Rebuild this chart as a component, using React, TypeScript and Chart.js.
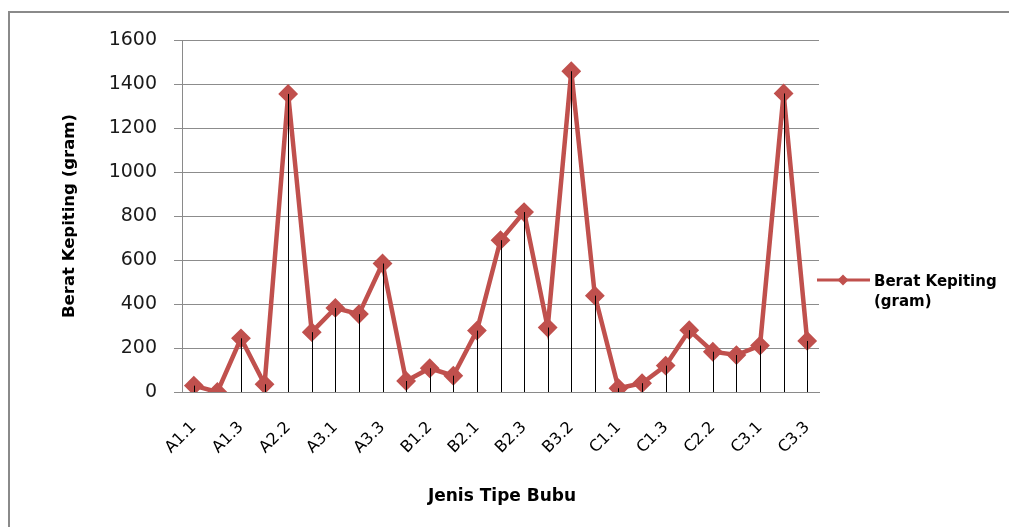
import React, { useEffect, useRef } from "react";
import { Chart, registerables } from "chart.js";

Chart.register(...registerables);

const categories = [
  "A1.1", "A1.2", "A1.3", "A2.1", "A2.2", "A2.3", "A3.1", "A3.2", "A3.3",
  "B1.1", "B1.2", "B1.3", "B2.1", "B2.2", "B2.3", "B3.1", "B3.2", "B3.3",
  "C1.1", "C1.2", "C1.3", "C2.1", "C2.2", "C2.3", "C3.1", "C3.2", "C3.3",
];

const beratKepiting = [
  29, 0, 244, 35, 1355, 272, 382, 354, 584,
  50, 108, 74, 279, 690, 818, 293, 1458, 438,
  17, 40, 120, 281, 183, 168, 211, 1357, 232,
];

const yTicks = [0, 200, 400, 600, 800, 1000, 1200, 1400, 1600];

const seriesName = "Berat Kepiting (gram)";
const legendLines = ["Berat Kepiting", "(gram)"];
const xTitle = "Jenis Tipe Bubu";
const yTitle = "Berat Kepiting (gram)";

const RED = "#C0504D";
const FONT = "'DejaVu Sans', sans-serif";

const decorPlugin = {
  id: "decor",
  beforeDraw(chart: any) {
    const ctx = chart.ctx;
    ctx.save();
    ctx.fillStyle = "#ffffff";
    ctx.fillRect(0, 0, chart.width, chart.height);
    ctx.strokeStyle = "#8a8a8a";
    ctx.lineWidth = 2;
    ctx.beginPath();
    ctx.moveTo(9, chart.height);
    ctx.lineTo(9, 12);
    ctx.lineTo(chart.width, 12);
    ctx.stroke();
    ctx.restore();
  },
  afterDatasetsDraw(chart: any) {
    const ctx = chart.ctx;
    const meta = chart.getDatasetMeta(0);
    const yScale = chart.scales.y;
    const base = yScale.getPixelForValue(0);
    ctx.save();
    ctx.strokeStyle = "#000000";
    ctx.lineWidth = 1;
    meta.data.forEach((pt: any) => {
      const x = Math.round(pt.x) + 0.5;
      ctx.beginPath();
      ctx.moveTo(x, pt.y);
      ctx.lineTo(x, base);
      ctx.stroke();
    });
    ctx.restore();
  },
  afterDraw(chart: any) {
    const ctx = chart.ctx;
    ctx.save();
    // axis titles
    ctx.fillStyle = "#000000";
    ctx.font = `bold 16.5px ${FONT}`;
    ctx.textAlign = "center";
    ctx.textBaseline = "middle";
    ctx.save();
    ctx.translate(70, 216);
    ctx.rotate(-Math.PI / 2);
    ctx.fillText(yTitle, 0, 0);
    ctx.restore();
    ctx.font = `bold 17px ${FONT}`;
    ctx.fillText(xTitle, 502, 497);

    // legend
    const ly = 280;
    ctx.strokeStyle = RED;
    ctx.lineWidth = 3;
    ctx.beginPath();
    ctx.moveTo(817, ly);
    ctx.lineTo(870, ly);
    ctx.stroke();
    ctx.fillStyle = RED;
    ctx.beginPath();
    ctx.moveTo(843, ly - 5.5);
    ctx.lineTo(848.5, ly);
    ctx.lineTo(843, ly + 5.5);
    ctx.lineTo(837.5, ly);
    ctx.closePath();
    ctx.fill();
    ctx.fillStyle = "#000000";
    ctx.font = `bold 15px ${FONT}`;
    ctx.textAlign = "left";
    ctx.textBaseline = "alphabetic";
    ctx.fillText(legendLines[0], 874, 286);
    ctx.fillText(legendLines[1], 874, 306);
    ctx.restore();
  },
};

export default function App() {
  const canvasRef = useRef<HTMLCanvasElement | null>(null);

  useEffect(() => {
    if (!canvasRef.current) return;
    const chart = new Chart(canvasRef.current, {
      type: "line",
      data: {
        labels: categories,
        datasets: [
          {
            label: seriesName,
            data: beratKepiting,
            borderColor: RED,
            backgroundColor: RED,
            borderWidth: 4.5,
            pointStyle: "rectRot",
            pointRadius: 8.5,
            pointBorderWidth: 2,
            pointBackgroundColor: RED,
            pointBorderColor: RED,
            tension: 0,
            fill: false,
          },
        ],
      },
      options: {
        responsive: false,
        animation: false,
        layout: { padding: { top: 40, right: 190, left: 0, bottom: 0 } },
        plugins: {
          legend: { display: false },
          tooltip: { enabled: false },
          title: { display: false },
        },
        scales: {
          x: {
            type: "category",
            offset: true,
            grid: { display: false, drawTicks: false },
            border: { display: true, color: "#8a8a8a", width: 1 },
            ticks: {
              autoSkip: false,
              maxRotation: 45,
              minRotation: 45,
              padding: 26,
              color: "#000000",
              font: { family: FONT, size: 16 },
              callback: (_v: any, i: number) => (i % 2 === 0 ? categories[i] : ""),
            },
            afterFit: (scale: any) => {
              scale.height = 135;
            },
          },
          y: {
            min: 0,
            max: 1600,
            afterBuildTicks: (scale: any) => {
              scale.ticks = yTicks.map((v) => ({ value: v }));
            },
            grid: { color: "#8c8c8c", lineWidth: 1, tickLength: 8, drawTicks: true },
            border: { display: true, color: "#8a8a8a", width: 1 },
            ticks: {
              padding: 17,
              color: "#1a1a1a",
              font: { family: FONT, size: 19 },
              callback: (v: any) => String(v),
            },
            afterFit: (scale: any) => {
              scale.width = 182;
            },
          },
        },
      },
      plugins: [decorPlugin],
    });
    return () => chart.destroy();
  }, []);

  return (
    <div style={{ position: "absolute", left: 0, top: 0, width: 1009, height: 527, background: "#fff" }}>
      <canvas ref={canvasRef} width={1009} height={527} style={{ display: "block" }} />
    </div>
  );
}
